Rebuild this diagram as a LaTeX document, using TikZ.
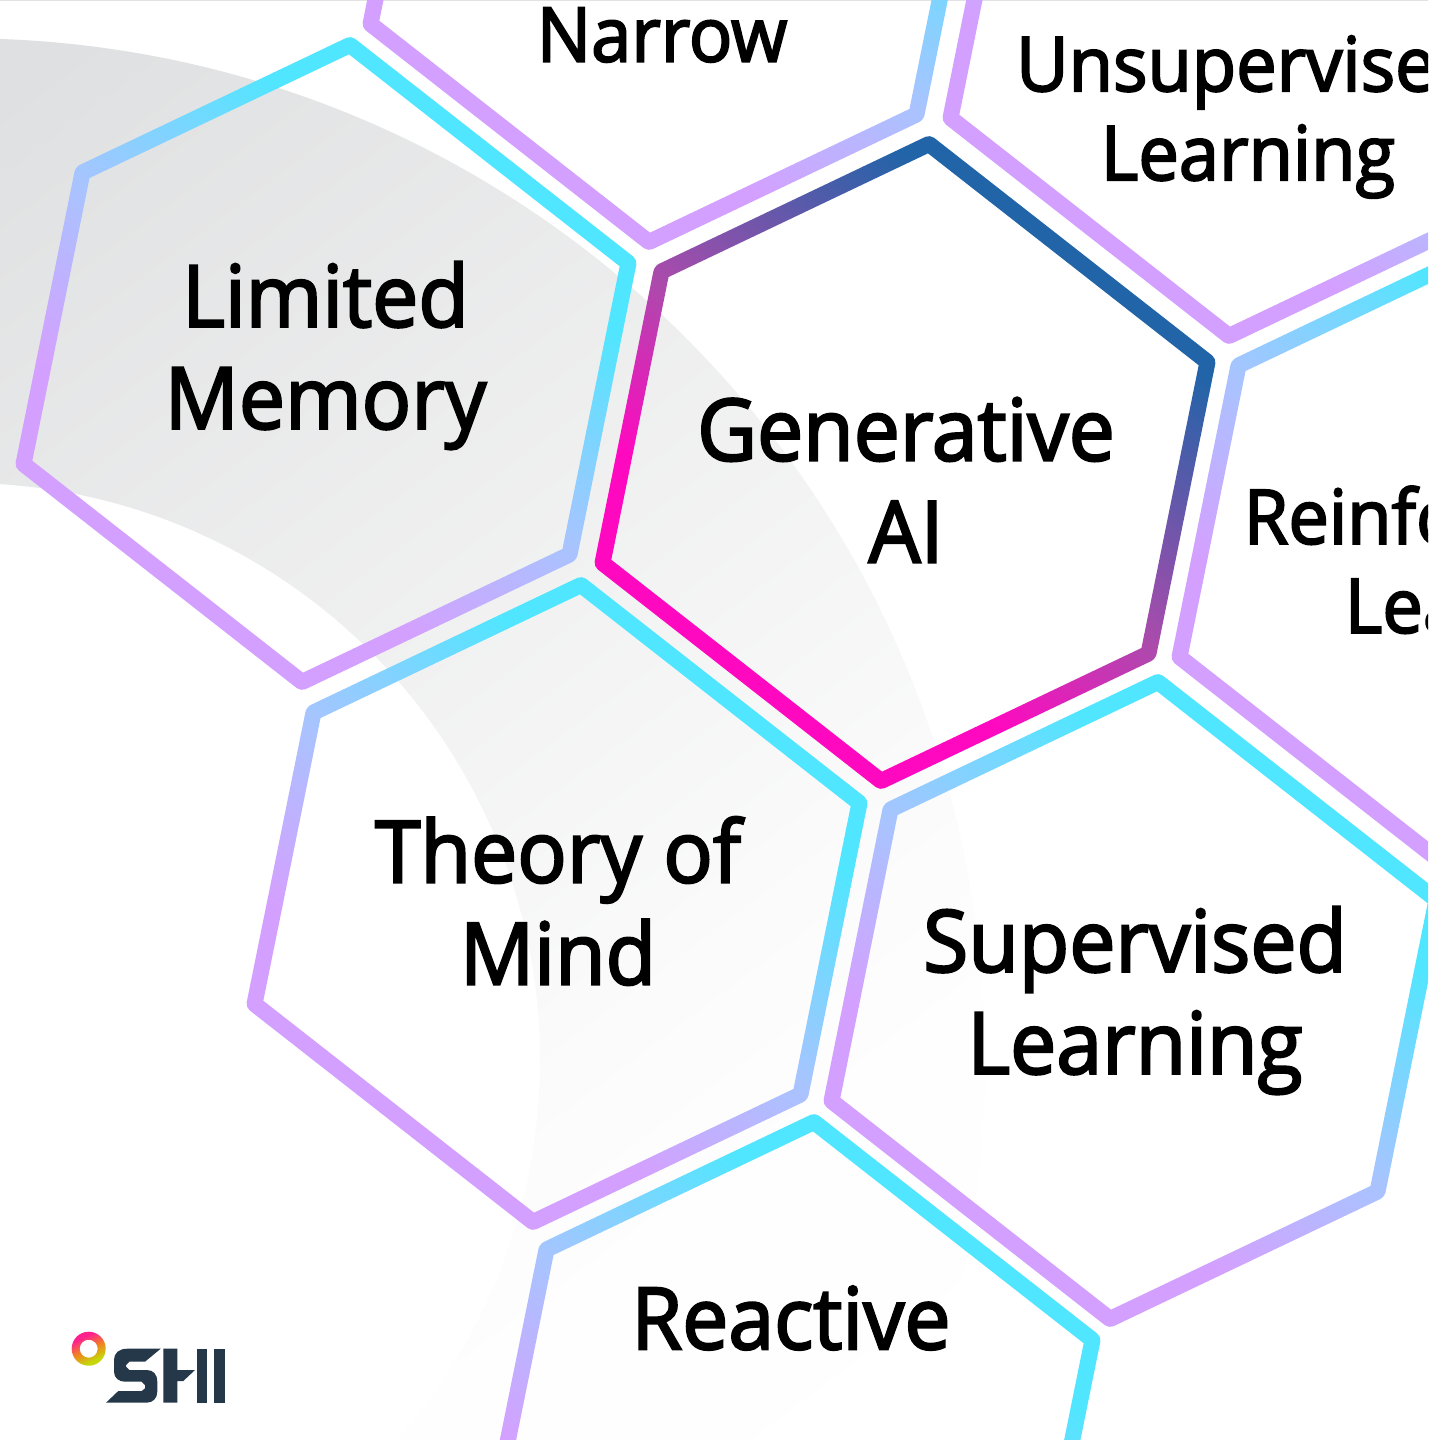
\documentclass[tikz,border=0pt]{standalone}
\usepackage{fontspec}
\setmainfont{Open Sans}[FakeBold=2.6,FakeStretch=0.957]
\definecolor{inkblue}{HTML}{24384A}
\definecolor{topline}{HTML}{E2E2E4}
\definecolor{coolPurple}{HTML}{D4A0FF}
\definecolor{coolMid}{HTML}{A8C4FF}
\definecolor{coolCyan}{HTML}{50E6FF}
\definecolor{hotMag}{HTML}{FF09C0}
\definecolor{hotMid}{HTML}{AB4BAC}
\definecolor{hotBlue}{HTML}{2164A8}
\definecolor{greyA}{HTML}{DFE0E1}
\definecolor{greyB}{HTML}{FBFBFB}
\definecolor{greyC}{HTML}{FEFEFE}
\definecolor{logoG}{HTML}{C5D60A}
\definecolor{logoO}{HTML}{F0851F}
\definecolor{logoP}{HTML}{FF2090}
\pgfdeclareverticalshading{coolhex}{100bp}{
  color(0bp)=(coolPurple); color(36.8bp)=(coolPurple); color(50bp)=(coolMid); color(65.5bp)=(coolCyan); color(100bp)=(coolCyan)}
\pgfdeclareverticalshading{hothex}{100bp}{
  color(0bp)=(hotMag); color(37.6bp)=(hotMag); color(50bp)=(hotMid); color(69.4bp)=(hotBlue); color(100bp)=(hotBlue)}
\pgfdeclareverticalshading{ringgrey}{100bp}{
  color(0bp)=(greyA); color(31.7bp)=(greyA); color(59bp)=(greyB); color(64bp)=(greyC); color(74bp)=(white); color(100bp)=(white)}
\pgfdeclareverticalshading{logoring}{100bp}{
  color(0bp)=(logoG); color(31bp)=(logoG); color(49bp)=(logoO); color(69bp)=(logoP); color(100bp)=(logoP)}
\tikzset{
  hexlabel/.style={font=\fontsize{86}{102}\selectfont,align=center,inner sep=0pt,text=black},
  hexsmall/.style={font=\fontsize{75.5}{89}\selectfont,align=center,inner sep=0pt,text=black},
  logoink/.style={fill=inkblue,draw=none},
}
% #1 centre, #2 shading
\newcommand{\hexring}[2]{%
  \begin{scope}[shift={#1}]
  \shade[shading=#2,shading angle=-36.4,even odd rule,rounded corners=5pt]
    (25.03,-327.85) -- (311.32,-103.75) -- (250.55,196.5) -- (-25.03,327.85) -- (-311.32,103.75) -- (-250.55,-196.5) -- cycle
    [sharp corners]
    (22.97,-309.15) -- (293.68,-97.25) -- (236.45,185.5) -- (-22.97,309.15) -- (-293.68,97.25) -- (-236.45,-185.5) -- cycle;
  \end{scope}}
\begin{document}
\begin{tikzpicture}[x=1pt,y=-1pt]
\useasboundingbox (0,0) rectangle (1428,1440);
\begin{scope}
\clip (0,0) rectangle (1428,1440);
\fill[white] (0,0) rectangle (1428,1440);
\draw[topline,line width=1.5pt] (0,0.6) -- (1428,0.6);
% grey ring
\shade[shading=ringgrey,shading angle=216.87,even odd rule]
  (-37,1060) circle[radius=1021.7] (-37,1060) circle[radius=577];
% hexagons
\hexring{(673,-76.5)}{coolhex}
\hexring{(1253,17.5)}{coolhex}
\hexring{(1482,556.5)}{coolhex}
\hexring{(326,363.5)}{coolhex}
\hexring{(557,903.5)}{coolhex}
\hexring{(1134,1000.5)}{coolhex}
\hexring{(790,1440.5)}{coolhex}
\hexring{(905,462.5)}{hothex}
% labels
\node[hexsmall] (narrow) at (662,35) {Narrow};
\node[hexsmall] (unsup) at (1248,116) {Unsupervised\\Learning};
\node[hexsmall] (reinf) at (1492,568.5) {Reinforcement\\Learning};
\node[hexlabel] (limited) at (325.5,355.5) {Limited\\Memory};
\node[hexlabel] (gen) at (906,480) {Generative\\AI};
\node[hexlabel] (theory) at (558,901) {Theory of\\Mind};
\node[hexlabel] (superv) at (1135,1000.5) {Supervised\\Learning};
\node[hexlabel] (react) at (791,1318) {Reactive};
% logo
\shade[shading=logoring,shading angle=25,even odd rule]
  (88.7,1348.7) circle[radius=17] (88.7,1348.7) circle[radius=9];
\fill[logoink]
  (160.7,1348.7) -- (127.3,1348.7) .. controls (119,1348.7) and (114,1353) .. (114,1360)
  -- (114,1371.7) .. controls (114,1378) and (119,1381.7) .. (125,1381.7)
  -- (141.7,1381.7) -- (145,1385) -- (145,1388.3) -- (141.7,1391) -- (118.3,1391) -- (106,1402.7)
  -- (146.7,1402.7) .. controls (153,1402.7) and (157.3,1398) .. (157.3,1391.7)
  -- (157.3,1381.7) .. controls (157.3,1374) and (153,1370) .. (146.7,1370)
  -- (129.3,1370) -- (126,1366.7) -- (126,1365) -- (129.3,1361.7) -- (145,1361.7) -- cycle;
\fill[logoink]
  (163.3,1348.7) -- (177.3,1348.7) -- (177.3,1370) -- (195,1370) -- (183.3,1381) -- (177.3,1381) -- (177.3,1402.7) -- (163.3,1402.7) -- cycle;
\fill[logoink] (196.5,1348.7) rectangle (207,1402.7);
\fill[logoink] (213.5,1348.7) rectangle (224.5,1402.7);
\end{scope}
\end{tikzpicture}
\end{document}
